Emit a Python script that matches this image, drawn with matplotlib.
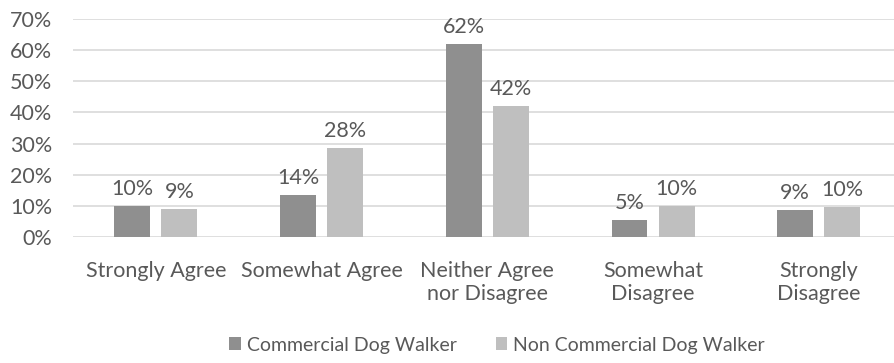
import numpy as np
import matplotlib.pyplot as plt

categories = ['Strongly Agree', 'Somewhat Agree', 'Neither Agree\nnor Disagree',
              'Somewhat\nDisagree', 'Strongly\nDisagree']
commercial = [10, 13.5, 62, 5.5, 8.7]
non_commercial = [9, 28.5, 42, 10, 9.6]
commercial_labels = ['10%', '14%', '62%', '5%', '9%']
non_commercial_labels = ['9%', '28%', '42%', '10%', '10%']

plt.rcParams['font.family'] = ['Lato', 'DejaVu Sans']
text_color = '#595959'

fig = plt.figure(figsize=(8.95, 3.63), dpi=100)
ax = fig.add_axes([73 / 895, 1 - 237 / 363, 822 / 895, 218 / 363])

x = np.arange(len(categories))
w = 0.217
off = 0.142
b1 = ax.bar(x - off, commercial, w, color='#8f8f8f', label='Commercial Dog Walker', zorder=3)
b2 = ax.bar(x + off, non_commercial, w, color='#bfbfbf', label='Non Commercial Dog Walker', zorder=3)

for bars, labels in ((b1, commercial_labels), (b2, non_commercial_labels)):
    for bar, lab in zip(bars, labels):
        ax.annotate(lab, (bar.get_x() + bar.get_width() / 2, bar.get_height()),
                    xytext=(0, 5), textcoords='offset points', ha='center', va='bottom',
                    fontsize=15.5, color=text_color)

ax.set_ylim(0, 70)
ax.set_yticks(range(0, 71, 10))
ax.set_yticklabels([f'{v}%' for v in range(0, 71, 10)])
ax.set_xlim(-0.5, 4.46)
ax.set_xticks(x)
ax.set_xticklabels(categories, linespacing=1.2)
ax.tick_params(length=0, labelsize=15.5, colors=text_color)
ax.tick_params(axis='y', pad=15)
ax.tick_params(axis='x', pad=17)
ax.grid(axis='y', color='#d9d9d9', linewidth=1.2, zorder=0)
for s in ax.spines.values():
    s.set_visible(False)

fig.legend(loc='center', bbox_to_anchor=(497 / 895, 1 - 345 / 363), ncol=2, frameon=False,
           fontsize=14, labelcolor=text_color, handlelength=0.6, handleheight=0.6,
           handletextpad=0.3, columnspacing=2.0)

fig.savefig('out.png', dpi=100)
